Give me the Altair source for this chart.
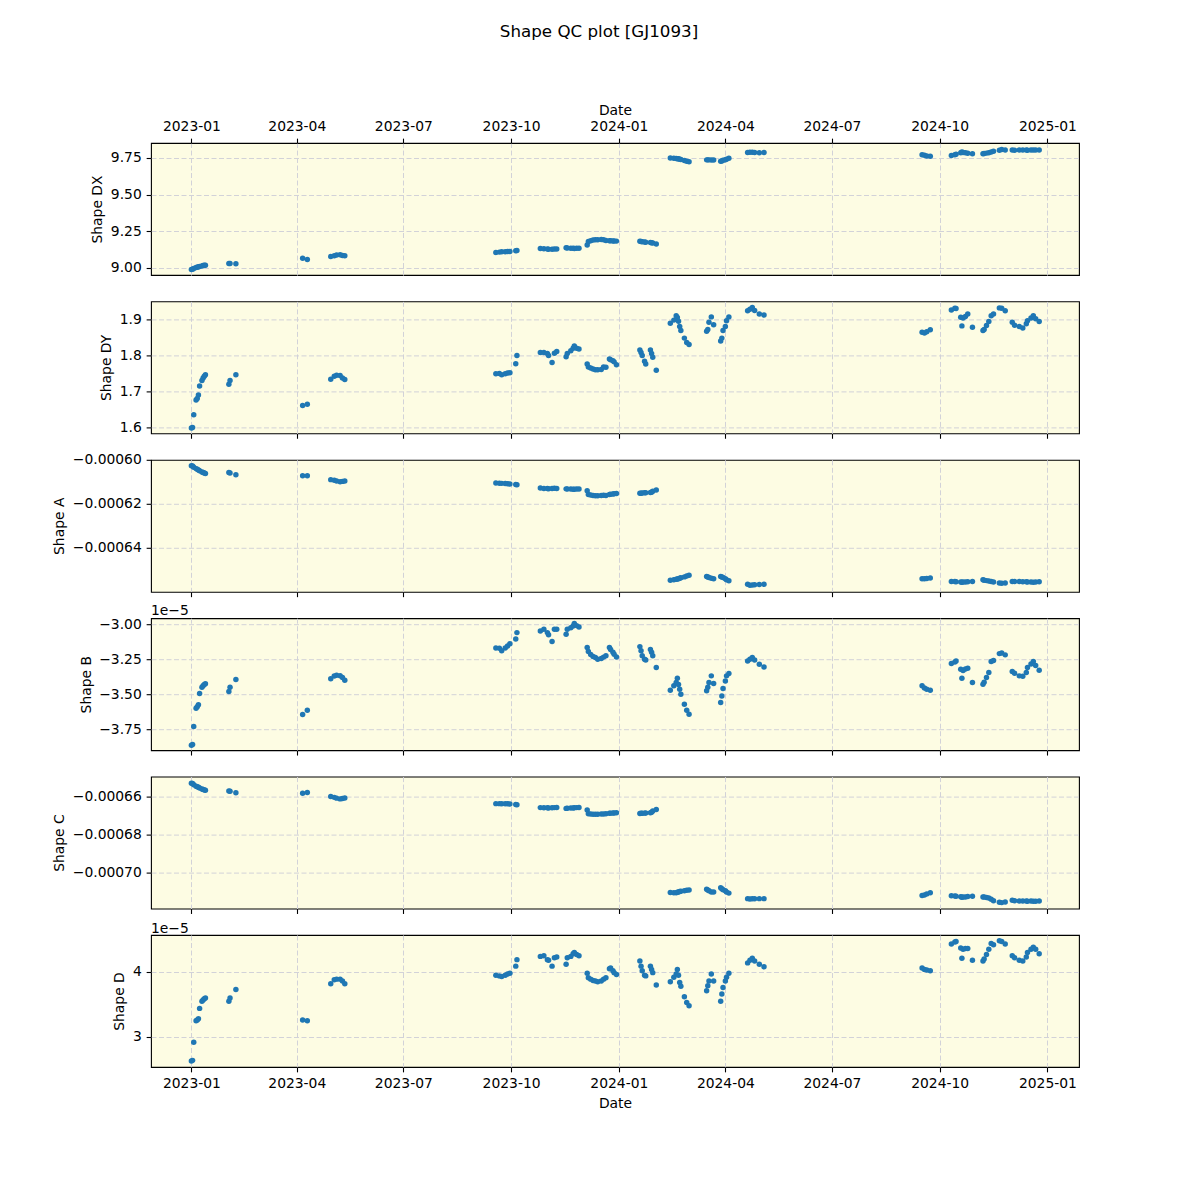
import altair as alt
import pandas as pd

FONT = "DejaVu Sans"
PX = 13.89

# ---------------- data ----------------
dates = [
    # cluster 1
    "2023-01-01", "2023-01-02", "2023-01-03", "2023-01-05", "2023-01-06", "2023-01-07",
    "2023-01-08", "2023-01-10", "2023-01-11", "2023-01-12", "2023-01-13",
    # 2
    "2023-02-02", "2023-02-03", "2023-02-08",
    # 3
    "2023-04-06", "2023-04-10",
    # 4
    "2023-04-30", "2023-05-03", "2023-05-05", "2023-05-08", "2023-05-10", "2023-05-12",
    # 5
    "2023-09-18", "2023-09-21", "2023-09-23", "2023-09-26", "2023-09-28", "2023-09-30",
    "2023-10-05", "2023-10-06",
    # 6
    "2023-10-26", "2023-10-29", "2023-11-01", "2023-11-02", "2023-11-05", "2023-11-07", "2023-11-09",
    # 7
    "2023-11-17", "2023-11-18", "2023-11-21", "2023-11-23", "2023-11-24", "2023-11-26", "2023-11-28",
    # 8
    "2023-12-05", "2023-12-06", "2023-12-08", "2023-12-10", "2023-12-12", "2023-12-14",
    "2023-12-17", "2023-12-19",
    # 9
    "2023-12-21", "2023-12-24", "2023-12-25", "2023-12-27", "2023-12-28", "2023-12-30",
    # 10
    "2024-01-19", "2024-01-20", "2024-01-21", "2024-01-23", "2024-01-24", "2024-01-28",
    "2024-01-29", "2024-01-30", "2024-02-02",
    # 11
    "2024-02-14", "2024-02-17", "2024-02-19", "2024-02-20", "2024-02-21", "2024-02-22",
    "2024-02-23", "2024-02-26", "2024-02-28", "2024-03-01",
    # 12
    "2024-03-16", "2024-03-17", "2024-03-18", "2024-03-20", "2024-03-22",
    # 13
    "2024-03-28", "2024-03-29", "2024-03-30", "2024-04-01", "2024-04-02", "2024-04-04",
    # 14
    "2024-04-20", "2024-04-22", "2024-04-24", "2024-04-26", "2024-04-30", "2024-05-04",
    # 15
    "2024-09-16", "2024-09-18", "2024-09-20", "2024-09-23",
    # 16
    "2024-10-11", "2024-10-14", "2024-10-15", "2024-10-19", "2024-10-20", "2024-10-21",
    "2024-10-23", "2024-10-25", "2024-10-29",
    # 17
    "2024-11-07", "2024-11-08", "2024-11-10", "2024-11-12", "2024-11-14", "2024-11-16",
    "2024-11-21", "2024-11-23", "2024-11-26",
    # 18
    "2024-12-02", "2024-12-04", "2024-12-08", "2024-12-11", "2024-12-14", "2024-12-15",
    "2024-12-18", "2024-12-20", "2024-12-22", "2024-12-25",
]

shape_dx = [
    8.990, 8.992, 8.997, 9.003, 9.005, 9.008, 9.010, 9.014, 9.016, 9.018, 9.019,
    9.030, 9.031, 9.028,
    9.066, 9.058,
    9.078, 9.083, 9.088, 9.090, 9.085, 9.084,
    9.106, 9.108, 9.110, 9.110, 9.112, 9.113, 9.118, 9.119,
    9.133, 9.131, 9.130, 9.128, 9.127, 9.129, 9.130,
    9.138, 9.136, 9.135, 9.134, 9.133, 9.134, 9.135,
    9.157, 9.180, 9.186, 9.190, 9.192, 9.193, 9.194, 9.193,
    9.188, 9.186, 9.185, 9.184, 9.184, 9.183,
    9.182, 9.180, 9.178, 9.177, 9.176, 9.174, 9.172, 9.170, 9.163,
    9.750, 9.748, 9.746, 9.745, 9.744, 9.742, 9.740, 9.733, 9.727, 9.724,
    9.737, 9.737, 9.737, 9.736, 9.736,
    9.728, 9.730, 9.734, 9.738, 9.742, 9.748,
    9.788, 9.789, 9.789, 9.788, 9.786, 9.788,
    9.772, 9.768, 9.764, 9.761,
    9.767, 9.772, 9.776, 9.785, 9.790, 9.787, 9.785, 9.782, 9.778,
    9.778, 9.780, 9.783, 9.786, 9.790, 9.795, 9.803, 9.808, 9.805,
    9.804, 9.803, 9.804, 9.805, 9.804, 9.803, 9.804, 9.805, 9.804, 9.804,
]

shape_dy = [
    1.598, 1.600, 1.635, 1.676, 1.680, 1.690, 1.715, 1.730, 1.737, 1.742, 1.746,
    1.720, 1.730, 1.746,
    1.661, 1.664,
    1.734, 1.742, 1.745, 1.744, 1.737, 1.733,
    1.749, 1.750, 1.746, 1.749, 1.751, 1.752, 1.777, 1.800,
    1.808, 1.808, 1.805, 1.800, 1.780, 1.806, 1.811,
    1.796, 1.805, 1.813, 1.820, 1.826, 1.820, 1.818,
    1.776, 1.768, 1.765, 1.762, 1.760, 1.760, 1.761, 1.768,
    1.767, 1.790, 1.788, 1.785, 1.782, 1.774,
    1.815, 1.808, 1.800, 1.784, 1.776, 1.815, 1.805, 1.795, 1.759,
    1.889, 1.898, 1.910, 1.905, 1.895, 1.880, 1.869, 1.848, 1.836, 1.830,
    1.867, 1.872, 1.892, 1.907, 1.885,
    1.840, 1.848, 1.869, 1.880, 1.896, 1.907,
    1.924, 1.928, 1.933, 1.925, 1.915, 1.912,
    1.864, 1.862, 1.866, 1.871,
    1.926, 1.931, 1.930, 1.906, 1.882, 1.904, 1.908, 1.915, 1.878,
    1.869, 1.872, 1.883, 1.894, 1.910, 1.915, 1.932, 1.931, 1.924,
    1.892, 1.884, 1.880, 1.876, 1.888, 1.896, 1.904, 1.910, 1.902, 1.894,
]

shape_a = [
    -0.0006027, -0.0006028, -0.0006034, -0.0006040, -0.0006043, -0.0006046,
    -0.0006050, -0.0006055, -0.0006058, -0.0006060, -0.0006062,
    -0.0006058, -0.0006060, -0.0006068,
    -0.0006072, -0.0006072,
    -0.0006090, -0.0006093, -0.0006096, -0.0006100, -0.0006098, -0.0006096,
    -0.0006105, -0.0006106, -0.0006107, -0.0006108, -0.0006109, -0.0006110, -0.0006112, -0.0006113,
    -0.0006128, -0.0006130, -0.0006130, -0.0006131, -0.0006130, -0.0006129, -0.0006130,
    -0.0006132, -0.0006133, -0.0006133, -0.0006134, -0.0006134, -0.0006133, -0.0006133,
    -0.0006140, -0.0006158, -0.0006160, -0.0006162, -0.0006163, -0.0006163, -0.0006162, -0.0006161,
    -0.0006162, -0.0006158, -0.0006156, -0.0006155, -0.0006154, -0.0006153,
    -0.0006152, -0.0006152, -0.0006151, -0.0006150, -0.0006150, -0.0006149, -0.0006147, -0.0006143, -0.0006137,
    -0.0006547, -0.0006545, -0.0006543, -0.0006542, -0.0006540, -0.0006538, -0.0006536, -0.0006532, -0.0006528, -0.0006525,
    -0.0006530, -0.0006532, -0.0006535, -0.0006538, -0.0006540,
    -0.0006530, -0.0006532, -0.0006535, -0.0006540, -0.0006545, -0.0006550,
    -0.0006565, -0.0006570, -0.0006569, -0.0006568, -0.0006567, -0.0006566,
    -0.0006541, -0.0006540, -0.0006539, -0.0006537,
    -0.0006553, -0.0006553, -0.0006554, -0.0006555, -0.0006556, -0.0006555, -0.0006555, -0.0006554, -0.0006553,
    -0.0006545, -0.0006547, -0.0006549, -0.0006551, -0.0006553, -0.0006555, -0.0006560, -0.0006561, -0.0006560,
    -0.0006553, -0.0006553, -0.0006553, -0.0006554, -0.0006554, -0.0006555, -0.0006555, -0.0006556, -0.0006555, -0.0006554,
]

# Shape B in units of 1e-5
shape_b_1e5 = [
    -3.865, -3.860, -3.730, -3.600, -3.590, -3.575, -3.495, -3.450, -3.440, -3.430, -3.425,
    -3.480, -3.450, -3.395,
    -3.645, -3.615,
    -3.390, -3.370, -3.365, -3.368, -3.380, -3.400,
    -3.170, -3.172, -3.190, -3.170, -3.155, -3.140, -3.105, -3.060,
    -3.048, -3.036, -3.060, -3.076, -3.124, -3.036, -3.036,
    -3.071, -3.036, -3.025, -3.012, -2.995, -3.010, -3.020,
    -3.167, -3.195, -3.216, -3.230, -3.238, -3.250, -3.245, -3.235,
    -3.226, -3.167, -3.180, -3.200, -3.215, -3.234,
    -3.160, -3.190, -3.226, -3.250, -3.255, -3.180, -3.200, -3.226, -3.310,
    -3.471, -3.440, -3.416, -3.386, -3.430, -3.464, -3.500, -3.571, -3.614, -3.643,
    -3.476, -3.450, -3.416, -3.369, -3.424,
    -3.559, -3.512, -3.460, -3.405, -3.369, -3.352,
    -3.262, -3.250, -3.238, -3.255, -3.286, -3.305,
    -3.440, -3.455, -3.465, -3.471,
    -3.281, -3.270, -3.262, -3.321, -3.386, -3.330, -3.320, -3.314, -3.416,
    -3.429, -3.415, -3.381, -3.345, -3.266, -3.260, -3.210, -3.205, -3.219,
    -3.338, -3.350, -3.369, -3.372, -3.345, -3.310, -3.285, -3.266, -3.295, -3.329,
]

shape_c = [
    -0.0006530, -0.0006531, -0.0006538, -0.0006545, -0.0006548, -0.0006551,
    -0.0006555, -0.0006560, -0.0006562, -0.0006565, -0.0006567,
    -0.0006570, -0.0006572, -0.0006580,
    -0.0006582, -0.0006578,
    -0.0006600, -0.0006604, -0.0006608, -0.0006612, -0.0006610, -0.0006607,
    -0.0006637, -0.0006637, -0.0006638, -0.0006638, -0.0006638, -0.0006639, -0.0006642, -0.0006643,
    -0.0006658, -0.0006659, -0.0006659, -0.0006660, -0.0006659, -0.0006658, -0.0006657,
    -0.0006662, -0.0006661, -0.0006660, -0.0006660, -0.0006659, -0.0006658, -0.0006657,
    -0.0006670, -0.0006690, -0.0006692, -0.0006693, -0.0006693, -0.0006693, -0.0006692, -0.0006692,
    -0.0006690, -0.0006688, -0.0006687, -0.0006686, -0.0006686, -0.0006685,
    -0.0006689, -0.0006688, -0.0006688, -0.0006687, -0.0006686, -0.0006685, -0.0006682, -0.0006676, -0.0006668,
    -0.0007105, -0.0007106, -0.0007106, -0.0007104, -0.0007102, -0.0007100, -0.0007098, -0.0007096, -0.0007093, -0.0007092,
    -0.0007088, -0.0007092, -0.0007096, -0.0007102, -0.0007102,
    -0.0007080, -0.0007085, -0.0007090, -0.0007096, -0.0007102, -0.0007108,
    -0.0007137, -0.0007139, -0.0007138, -0.0007138, -0.0007137, -0.0007137,
    -0.0007121, -0.0007118, -0.0007112, -0.0007106,
    -0.0007122, -0.0007123, -0.0007125, -0.0007127, -0.0007130, -0.0007129, -0.0007128, -0.0007126, -0.0007124,
    -0.0007128, -0.0007129, -0.0007131, -0.0007134, -0.0007140, -0.0007148, -0.0007156, -0.0007158, -0.0007155,
    -0.0007146, -0.0007148, -0.0007150, -0.0007150, -0.0007150, -0.0007151, -0.0007150, -0.0007151, -0.0007151, -0.0007150,
]

# Shape D in units of 1e-5
shape_d_1e5 = [
    2.63, 2.64, 2.92, 3.25, 3.26, 3.28, 3.44, 3.55, 3.57, 3.59, 3.60,
    3.55, 3.60, 3.73,
    3.26, 3.25,
    3.82, 3.88, 3.89, 3.89, 3.86, 3.82,
    3.95, 3.94, 3.93, 3.95, 3.97, 3.98, 4.09, 4.19,
    4.24, 4.25, 4.19, 4.18, 4.09, 4.22, 4.23,
    4.12, 4.22, 4.24, 4.28, 4.30, 4.27, 4.25,
    3.98, 3.91, 3.89, 3.87, 3.86, 3.85, 3.86, 3.89,
    3.91, 4.05, 4.06, 4.02, 3.99, 3.96,
    4.17, 4.09, 4.02, 3.95, 3.94, 4.09, 4.04, 3.99, 3.80,
    3.85, 3.92, 3.97, 4.04, 3.95, 3.84, 3.78, 3.62, 3.53, 3.48,
    3.71, 3.79, 3.86, 3.97, 3.86,
    3.55, 3.66, 3.76, 3.86, 3.92, 3.98,
    4.14, 4.18, 4.21, 4.17, 4.12, 4.08,
    4.06, 4.04, 4.03, 4.02,
    4.43, 4.46, 4.47, 4.37, 4.21, 4.35, 4.36, 4.36, 4.18,
    4.17, 4.20, 4.27, 4.35, 4.44, 4.42, 4.48, 4.47, 4.43,
    4.25, 4.22, 4.18, 4.17, 4.23, 4.30, 4.35, 4.38, 4.35, 4.28,
]

x_tick_dates = [(2023, 1), (2023, 4), (2023, 7), (2023, 10), (2024, 1),
                (2024, 4), (2024, 7), (2024, 10), (2025, 1)]

n = len(dates)
for s in (shape_dx, shape_dy, shape_a, shape_b_1e5, shape_c, shape_d_1e5):
    assert len(s) == n, (len(s), n)

df = pd.DataFrame({
    "date": dates,
    "dx": shape_dx,
    "dy": shape_dy,
    "a": shape_a,
    "b": shape_b_1e5,
    "c": shape_c,
    "d": shape_d_1e5,
})

# ---------------- chart ----------------
x_values = [alt.DateTime(year=y, month=m, date=1, utc=True) for y, m in x_tick_dates]
x_scale = alt.Scale(
    type="utc",
    domain=[alt.DateTime(year=2022, month=11, date=27, hours=12, utc=True),
            alt.DateTime(year=2025, month=1, date=28, utc=True)],
    nice=False,
)


def x_axis(kind):
    if kind == "top":
        return alt.Axis(orient="top", values=x_values, format="%Y-%m", title="Date",
                        grid=True, labels=True, ticks=True, titlePadding=2)
    if kind == "bottom":
        return alt.Axis(orient="bottom", values=x_values, format="%Y-%m", title="Date",
                        grid=True, labels=True, ticks=True)
    return alt.Axis(orient="bottom", values=x_values, title=None, grid=True,
                    labels=False, ticks=True)


def panel(field, title, yticks, fmt, ydomain, kind, offset_text=None, hide_grid_above=None):
    y_axis_kw = dict(values=yticks, format=fmt, title=title, grid=True)
    if hide_grid_above is not None:
        # the tick sitting on the top frame keeps its label but not its dashed grid line
        y_axis_kw["gridOpacity"] = {
            "condition": {"test": f"datum.value > {hide_grid_above}", "value": 0},
            "value": 1,
        }
    ch = alt.Chart(df).mark_circle(size=30, color="#1f77b4", opacity=1).encode(
        x=alt.X("date:T", scale=x_scale, axis=x_axis(kind)),
        y=alt.Y(f"{field}:Q",
                scale=alt.Scale(domain=ydomain, nice=False, zero=False),
                axis=alt.Axis(**y_axis_kw)),
    ).properties(width=928, height=132)
    if offset_text:
        ch = ch.properties(title=alt.TitleParams(
            offset_text, anchor="start", frame="group", font=FONT, fontSize=PX,
            fontWeight="normal", color="black", offset=-1))
    return ch


p1 = panel("dx", "Shape DX", [9.0, 9.25, 9.5, 9.75], ".2f", [8.952, 9.852], "top")
p2 = panel("dy", "Shape DY", [1.6, 1.7, 1.8, 1.9], ".1f", [1.5833, 1.95], "mid")
p3 = panel("a", "Shape A", [-0.00064, -0.00062, -0.0006], ".5f",
           [-0.00065998, -0.00059999], "mid", hide_grid_above=-0.000601)
p4 = panel("b", "Shape B", [-3.75, -3.5, -3.25, -3.0], ".2f", [-3.90, -2.957], "mid",
           offset_text="1e\u22125")
p5 = panel("c", "Shape C", [-0.0007, -0.00068, -0.00066], ".5f",
           [-0.00071895, -0.00064947], "mid")
p6 = panel("d", "Shape D", [3, 4], "d", [2.538, 4.569], "bottom", offset_text="1e\u22125")

chart = alt.vconcat(p1, p2, p3, p4, p5, p6, spacing=26.4, bounds="flush").properties(
    title=alt.TitleParams("Shape QC plot [GJ1093]", anchor="middle", frame="group",
                          font=FONT, fontSize=16.7, fontWeight="normal", color="black",
                          offset=62, dx=-16),
    padding={"left": 52, "top": 24, "right": 10, "bottom": 10},
).configure_view(
    fill="#FDFCE3", stroke="black", strokeWidth=1.1
).configure_axis(
    labelFont=FONT, labelFontSize=PX, labelColor="black",
    titleFont=FONT, titleFontSize=PX, titleFontWeight="normal", titleColor="black",
    tickColor="black", tickSize=4.86, tickWidth=1.1, labelPadding=4.86, titlePadding=5.6,
    domain=False, gridColor="#d2d2d8", gridDash=[5, 2.5], gridWidth=1.0,
)

chart.save("out.html", embed_options={"renderer": "svg", "actions": False})
